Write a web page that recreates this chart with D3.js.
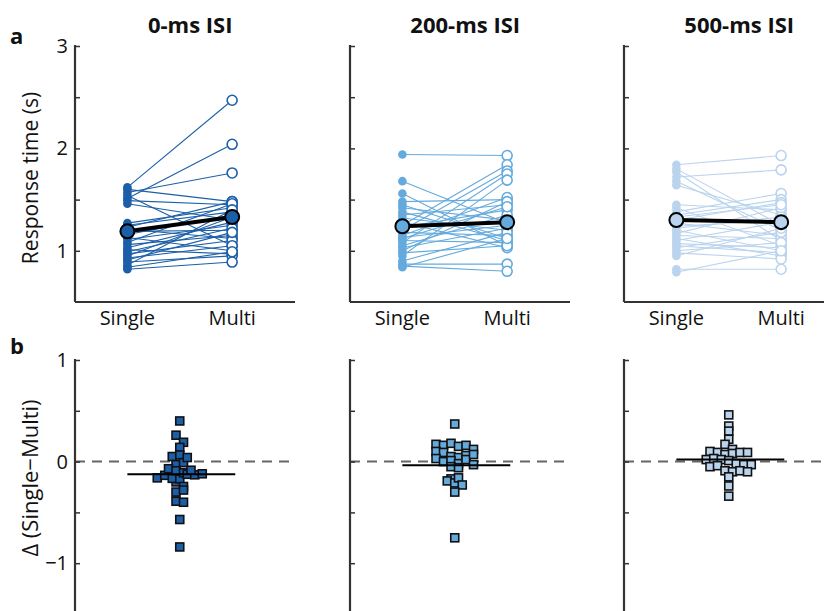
<!DOCTYPE html>
<html>
<head>
<meta charset="utf-8">
<script src="https://cdn.jsdelivr.net/npm/d3@7"></script>
<style>
    body { margin: 0; background: #fff; }
    text { font-family: "Open Sans", "Noto Sans", sans-serif; fill: #111; }
</style>
</head>
<body>
<script>
// chart size
const width = 824;
const height = 611;

// categories and labels
const conditions = ["0-ms ISI", "200-ms ISI", "500-ms ISI"];
const xLabels = ["Single", "Multi"];
const topTicks = [1, 2, 3];
const topMinorTicks = [1.5, 2.5];
const bottomTicks = [-1, 0, 1];
const bottomMinorTicks = [-0.5, 0.5];

// response times per subject (s), 0-ms ISI
const single0 = [1.62, 1.60, 1.57, 1.54, 1.51, 1.49, 1.46, 1.27, 1.25, 1.23, 1.21, 1.19, 1.16, 1.13,
    1.11, 1.08, 1.06, 1.03, 1.01, 0.99, 0.97, 0.95, 0.93, 0.91, 0.89, 0.86, 0.84, 0.82];
const multi0 = [2.47, 1.48, 1.76, 1.05, 2.04, 1.45, 1.30, 1.42, 1.38, 1.48, 1.12, 1.20, 1.35, 1.00,
    1.25, 1.46, 1.15, 1.28, 0.97, 1.22, 1.10, 1.33, 1.05, 1.18, 0.95, 1.40, 0.99, 0.89];
// 200-ms ISI
const single200 = [1.94, 1.68, 1.56, 1.48, 1.45, 1.42, 1.38, 1.35, 1.32, 1.28, 1.25, 1.23, 1.20, 1.18,
    1.15, 1.13, 1.10, 1.08, 1.05, 1.03, 1.00, 0.98, 0.95, 0.90, 0.87, 0.85, 0.84, 1.12];
const multi200 = [1.93, 1.27, 1.05, 1.50, 1.12, 1.30, 1.10, 1.45, 1.20, 1.03, 1.84, 1.40, 1.78, 1.15,
    1.52, 1.25, 1.08, 1.75, 1.35, 1.22, 1.48, 1.05, 1.69, 1.18, 0.87, 0.80, 1.12, 1.43];
// 500-ms ISI
const single500 = [1.84, 1.80, 1.77, 1.72, 1.68, 1.64, 1.45, 1.42, 1.38, 1.35, 1.30, 1.27, 1.24, 1.20,
    1.17, 1.15, 1.12, 1.10, 1.07, 1.05, 1.03, 1.00, 0.98, 0.95, 0.82, 0.79, 1.33, 1.22];
const multi500 = [1.93, 1.25, 1.10, 1.79, 1.20, 1.35, 1.40, 1.05, 1.56, 1.50, 1.47, 1.15, 1.30, 1.00,
    1.42, 1.12, 0.95, 1.28, 1.03, 0.98, 1.18, 1.08, 0.92, 1.22, 0.82, 1.00, 1.45, 1.33];

// group means
const meanSingle = [1.19, 1.24, 1.30];
const meanMulti = [1.33, 1.28, 1.28];

// difference Single - Multi per subject
const delta0 = [-0.16, -0.135, -0.20, -0.165, -0.17, 0.40, 0.26, 0.19, 0.14, 0.05, -0.03, -0.07, -0.245,
    -0.39, -0.84, -0.57, -0.30, 0.065, -0.01, -0.28, -0.40, 0.04, -0.09, -0.11, -0.125, -0.13, -0.085, -0.12];
const delta200 = [0.37, 0.17, 0.16, 0.18, 0.15, 0.16, 0.10, 0.12, 0.09, 0.05, 0.04, 0.06, 0.03, 0.0,
    0.01, -0.02, -0.05, -0.06, -0.17, -0.19, -0.21, -0.16, -0.23, -0.30, -0.75, 0.02, -0.03, 0.07];
const delta500 = [0.46, 0.35, 0.30, 0.22, 0.17, 0.12, 0.10, 0.09, 0.07, 0.08, 0.09, 0.09, 0.02, 0.03,
    0.02, 0.01, -0.02, -0.03, -0.05, -0.04, -0.03, -0.09, -0.10, -0.09, -0.10, -0.24, -0.34, -0.15];
const meanDelta = [-0.125, -0.035, 0.02];

const singles = [single0, single200, single500];
const multis = [multi0, multi200, multi500];
const deltas = [delta0, delta200, delta500];

// colours per ISI
const colors = ["#1c5fa8", "#64aadc", "#bad4ee"];

// layout
const panelLeft = [75, 350, 624];
const panelWidth = 220;
const topBox = { top: 46, bottom: 302 };
const bottomBox = { top: 360, bottom: 614 };

var svg;
var x_scale, y_top, y_bottom;

function generateScales() {
    x_scale = d3.scaleLinear().domain([0.5, 2.6]).range([0, panelWidth]);
    y_top = d3.scaleLinear().domain([0.5, 3]).range([topBox.bottom, topBox.top]);
    y_bottom = d3.scaleLinear().domain([-1.5, 1]).range([bottomBox.bottom, bottomBox.top]);
}

function drawYAxis(g, scale, major, minor, showLabels) {
    // matlab style: ticks pointing inwards, labels only on the first panel
    var ax = d3.axisRight(scale)
        .tickValues(major.concat(minor).sort((a, b) => a - b))
        .tickSize(5)
        .tickFormat("");
    var a = g.append("g").call(ax);
    a.select(".domain").remove();
    a.selectAll(".tick line").attr("stroke", "#333").attr("stroke-width", 1.5);
    g.append("line")
        .attr("x1", 0).attr("x2", 0)
        .attr("y1", scale.range()[1] - 1).attr("y2", scale.range()[0])
        .attr("stroke", "#333").attr("stroke-width", 2.2);
    if (showLabels) {
        g.selectAll(".ylab")
            .data(major)
            .enter()
            .append("text")
            .attr("x", -7)
            .attr("y", (d) => scale(d))
            .attr("dy", "0.35em")
            .style("text-anchor", "end")
            .style("font-size", "20px")
            .text((d) => d < 0 ? "\u2212" + Math.abs(d) : d);
    }
}

// spread the squares sideways inside value bins, like plotSpread
function spreadOffsets(values) {
    var binWidth = 0.075;
    var bins = d3.group(values.map((v, i) => i), (i) => Math.round(values[i] / binWidth));
    var off = new Array(values.length).fill(0);
    bins.forEach((idx) => {
        idx.forEach((i, k) => {
            off[i] = (k - (idx.length - 1) / 2) * 7.5;
        });
    });
    return off;
}

function generateTopPanel(p) {
    var g = svg.append("g").attr("transform", "translate(" + panelLeft[p] + ",0)");
    var s = singles[p], m = multis[p];
    var c = colors[p];

    drawYAxis(g, y_top, topTicks, topMinorTicks, p === 0);
    g.append("line")
        .attr("x1", 0).attr("x2", panelWidth)
        .attr("y1", topBox.bottom).attr("y2", topBox.bottom)
        .attr("stroke", "#333").attr("stroke-width", 2.2);

    // subject lines
    g.selectAll(".subj")
        .data(s)
        .enter()
        .append("line")
        .attr("x1", x_scale(1)).attr("x2", x_scale(2))
        .attr("y1", (d) => y_top(d))
        .attr("y2", (d, i) => y_top(m[i]))
        .attr("stroke", c).attr("stroke-width", 1.1);

    g.selectAll(".single")
        .data(s)
        .enter()
        .append("circle")
        .attr("cx", x_scale(1)).attr("cy", (d) => y_top(d))
        .attr("r", 4.3)
        .attr("fill", c);

    g.selectAll(".multi")
        .data(m)
        .enter()
        .append("circle")
        .attr("cx", x_scale(2)).attr("cy", (d) => y_top(d))
        .attr("r", 5)
        .attr("fill", "#fff")
        .attr("stroke", c).attr("stroke-width", 1.6);

    // group mean
    g.append("line")
        .attr("x1", x_scale(1)).attr("x2", x_scale(2))
        .attr("y1", y_top(meanSingle[p])).attr("y2", y_top(meanMulti[p]))
        .attr("stroke", "#000").attr("stroke-width", 4);
    g.selectAll(".mean")
        .data([meanSingle[p], meanMulti[p]])
        .enter()
        .append("circle")
        .attr("cx", (d, i) => x_scale(i + 1)).attr("cy", (d) => y_top(d))
        .attr("r", 7)
        .attr("fill", c)
        .attr("stroke", "#000").attr("stroke-width", 2);

    g.selectAll(".xlab")
        .data(xLabels)
        .enter()
        .append("text")
        .attr("x", (d, i) => x_scale(i + 1))
        .attr("y", 325)
        .style("text-anchor", "middle")
        .style("font-size", "20px")
        .text((d) => d);

    g.append("text")
        .attr("x", x_scale(1.6))
        .attr("y", 33)
        .style("text-anchor", "middle")
        .style("font-size", "22px")
        .style("font-weight", "bold")
        .text(conditions[p]);
}

function generateBottomPanel(p) {
    var g = svg.append("g").attr("transform", "translate(" + panelLeft[p] + ",0)");
    var d0 = deltas[p];
    var off = spreadOffsets(d0);

    g.append("line")
        .attr("x1", x_scale(0.5)).attr("x2", x_scale(2.6))
        .attr("y1", y_bottom(0)).attr("y2", y_bottom(0))
        .attr("stroke", "#666").attr("stroke-width", 2)
        .attr("stroke-dasharray", "10,7");

    drawYAxis(g, y_bottom, bottomTicks, bottomMinorTicks, p === 0);

    g.selectAll(".sq")
        .data(d0)
        .enter()
        .append("rect")
        .attr("x", (d, i) => x_scale(1.5) + off[i] - 4)
        .attr("y", (d) => y_bottom(d) - 4)
        .attr("width", 8).attr("height", 8)
        .attr("fill", colors[p])
        .attr("stroke", "#111").attr("stroke-width", 1.6);

    g.append("line")
        .attr("x1", x_scale(1)).attr("x2", x_scale(2.03))
        .attr("y1", y_bottom(meanDelta[p])).attr("y2", y_bottom(meanDelta[p]))
        .attr("stroke", "#000").attr("stroke-width", 2);
}

function generateLabels() {
    svg.append("text")
        .attr("transform", "translate(38,178) rotate(-90)")
        .style("text-anchor", "middle")
        .style("font-size", "21px")
        .text("Response time (s)");
    svg.append("text")
        .attr("transform", "translate(38,478) rotate(-90)")
        .style("text-anchor", "middle")
        .style("font-size", "22px")
        .text("\u0394 (Single\u2212Multi)");
    svg.append("text").attr("x", 10).attr("y", 44)
        .style("font-size", "22px").style("font-weight", "bold").text("a");
    svg.append("text").attr("x", 10).attr("y", 354)
        .style("font-size", "22px").style("font-weight", "bold").text("b");
}

document.addEventListener('DOMContentLoaded', function () {
    svg = d3.select("body")
        .append("svg")
        .attr("width", width)
        .attr("height", height);
    generateScales();
    for (var p = 0; p < 3; p++) {
        generateTopPanel(p);
        generateBottomPanel(p);
    }
    generateLabels();
});
</script>
</body>
</html>
